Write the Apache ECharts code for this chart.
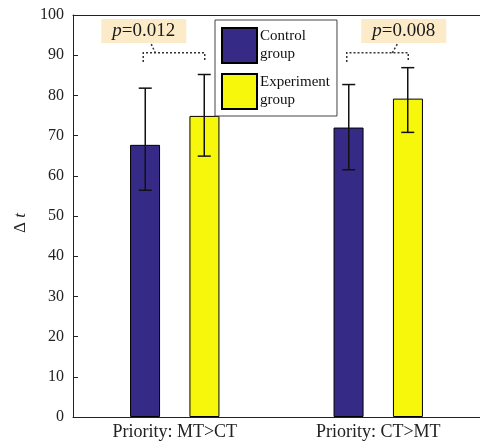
<!DOCTYPE html>
<html>
<head>
<meta charset="utf-8">
<script src="https://cdn.jsdelivr.net/npm/echarts@6/dist/echarts.min.js"></script>
<style>
html,body{margin:0;padding:0;background:#fff;}
#chart{width:480px;height:444px;}
</style>
</head>
<body>
<div id="chart"></div>
<script>
// ---- data ----
var categories = ['Priority: MT>CT', 'Priority: CT>MT'];
var seriesNames = ['Control group', 'Experiment group'];
var controlMean = [67.7, 72.0];
var controlLow = [56.4, 61.5];
var controlHigh = [81.8, 82.7];
var experimentMean = [74.9, 79.2];
var experimentLow = [64.9, 70.8];
var experimentHigh = [85.2, 86.9];
var pValues = ['0.012', '0.008'];
var bracketValue = [90.6, 90.6];
var bracketLegValue = [88.3, 88.3];
var pLabelValue = [96.0, 96.0];
var yTicks = [0, 10, 20, 30, 40, 50, 60, 70, 80, 90, 100];

var FONT = "'Liberation Serif','Times New Roman',serif";
var chart = echarts.init(document.getElementById('chart'));

var barOffset = 29.5;
function errData(low, high) {
  return categories.map(function (c, i) { return [i, low[i], high[i]]; });
}
function errRender(offset) {
  return function (params, api) {
    var idx = api.value(0);
    var lo = api.coord([idx, api.value(1)]);
    var hi = api.coord([idx, api.value(2)]);
    var x = lo[0] + offset;
    var cap = 6.5;
    var st = { stroke: '#111', lineWidth: 1.5 };
    return {
      type: 'group',
      children: [
        { type: 'line', shape: { x1: x, y1: lo[1], x2: x, y2: hi[1] }, style: st },
        { type: 'line', shape: { x1: x - cap, y1: lo[1], x2: x + cap, y2: lo[1] }, style: st },
        { type: 'line', shape: { x1: x - cap, y1: hi[1], x2: x + cap, y2: hi[1] }, style: st }
      ]
    };
  };
}

var labelOffsets = [-31, 25.5];
var connectTop = [7.5, -6.5];
var connectBottom = [-19.5, 14];

function annotRender(params, api) {
  var idx = api.value(0);
  var c = api.coord([idx, bracketValue[idx]]);
  var leg = api.coord([idx, bracketLegValue[idx]]);
  var lab = api.coord([idx, pLabelValue[idx]]);
  var cx = c[0];
  var xl = cx - 31.5, xr = cx + 30;
  var dot = { stroke: '#333', fill: null, lineWidth: 1.5, lineDash: [2, 2] };
  var lx = cx + labelOffsets[idx];
  var boxW = 85, boxH = 24;
  return {
    type: 'group',
    children: [
      { type: 'polyline', shape: { points: [[xl, leg[1]], [xl, c[1]], [xr, c[1]], [xr, leg[1]]] }, style: dot },
      { type: 'line', shape: { x1: lx + connectTop[idx], y1: lab[1] + boxH / 2 + 1, x2: cx + connectBottom[idx], y2: c[1] }, style: dot },
      { type: 'rect', shape: { x: lx - boxW / 2, y: lab[1] - boxH / 2, width: boxW, height: boxH }, style: { fill: '#fcebc8' } },
      { type: 'text', x: lx, y: lab[1], style: {
          text: '{i|p}=' + pValues[idx], fill: '#1a1a1a', fontFamily: FONT, fontSize: 19,
          align: 'center', verticalAlign: 'middle',
          rich: { i: { fontStyle: 'italic', fontFamily: FONT, fontSize: 19, fill: '#1a1a1a' } }
        } }
    ]
  };
}

var option = {
  animation: false,
  backgroundColor: '#fff',
  textStyle: { fontFamily: FONT },
  grid: { left: 73, top: 15, width: 413, height: 402, containLabel: false },
  legend: {
    data: seriesNames,
    orient: 'vertical',
    left: 215, top: 20,
    padding: [7, 7, 6, 6],
    itemWidth: 35, itemHeight: 35, itemGap: 9,
    icon: 'rect',
    borderColor: '#444', borderWidth: 1,
    backgroundColor: '#fff',
    formatter: function (n) { return n.replace(' ', '\n'); },
    textStyle: { fontFamily: FONT, fontSize: 15, color: '#111', lineHeight: 18, padding: [0, 0, 0, -2] }
  },
  xAxis: [{
    type: 'category', data: categories, position: 'bottom',
    axisLine: { lineStyle: { color: '#222', width: 1 } },
    axisTick: { inside: true, alignWithLabel: true, length: 5, lineStyle: { color: '#222' } },
    axisLabel: { fontFamily: FONT, fontSize: 18, color: '#222', margin: 6 }
  }, {
    type: 'category', data: categories, position: 'top',
    axisLine: { lineStyle: { color: '#222', width: 1 } },
    axisTick: { inside: true, alignWithLabel: true, length: 5, lineStyle: { color: '#222' } },
    axisLabel: { show: false }
  }],
  yAxis: {
    type: 'value', min: yTicks[0], max: yTicks[yTicks.length - 1], interval: 10,
    name: 'Δ {i|t}', nameLocation: 'middle', nameGap: 36,
    nameTextStyle: { fontFamily: FONT, fontSize: 17, color: '#222', padding: [0, 14, 0, 0], rich: { i: { fontStyle: 'italic', fontFamily: FONT, fontSize: 17, color: '#222' } } },
    axisLine: { show: true, lineStyle: { color: '#222', width: 1 } },
    axisTick: { show: true, inside: true, length: 5, lineStyle: { color: '#222' } },
    axisLabel: { fontFamily: FONT, fontSize: 16, color: '#222', margin: 9 },
    splitLine: { show: false }
  },
  series: [
    { name: seriesNames[0], type: 'bar', data: controlMean, barWidth: 30, barGap: '98%',
      itemStyle: { color: '#352a85', borderColor: '#000', borderWidth: 1 } },
    { name: seriesNames[1], type: 'bar', data: experimentMean, barWidth: 30, barGap: '98%',
      itemStyle: { color: '#f7f70c', borderColor: '#000', borderWidth: 1 } },
    { type: 'custom', name: 'errC', data: errData(controlLow, controlHigh), renderItem: errRender(-barOffset), z: 5 },
    { type: 'custom', name: 'errE', data: errData(experimentLow, experimentHigh), renderItem: errRender(barOffset), z: 5 },
    { type: 'custom', name: 'annot', data: categories.map(function (c, i) { return [i, bracketValue[i]]; }), renderItem: annotRender, z: 6 }
  ]
};
chart.setOption(option);
</script>
</body>
</html>
